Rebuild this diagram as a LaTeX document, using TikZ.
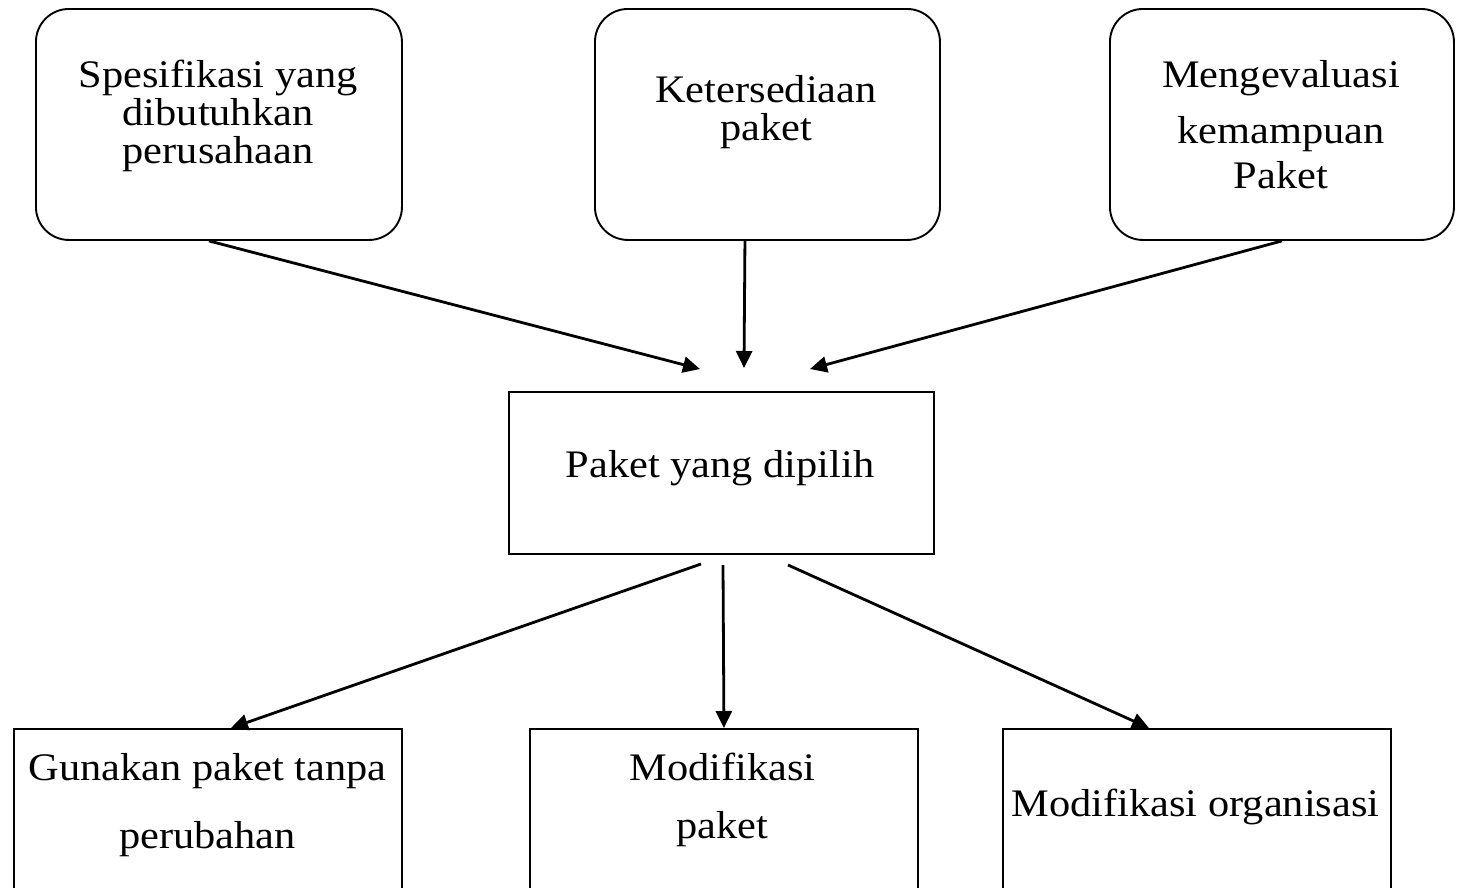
\documentclass[tikz,border=0pt]{standalone}
\usepackage{fontspec}
\setmainfont{Liberation Serif}[FakeStretch=1.087,Ligatures=NoCommon]
\usetikzlibrary{arrows.meta}
\begin{document}
\begin{tikzpicture}[x=1pt,y=1pt,
  rbox/.style={draw,line width=1.9pt,rounded corners=33pt,anchor=north west,inner sep=0pt},
  sbox/.style={draw,line width=1.9pt,anchor=north west,inner sep=0pt},
  txt/.style={anchor=base,align=center,inner sep=0pt,font=\fontsize{39}{38}\selectfont},
  arr/.style={line width=2.8pt,-{Triangle[length=17pt,width=16pt]}}]
\useasboundingbox (0,0) rectangle (1459,-887);
\clip (0,0) rectangle (1459,-887);
% top boxes
\node[rbox,minimum width=366pt,minimum height=231pt] (b1) at (35,-8) {};
\node[rbox,minimum width=345pt,minimum height=231pt] (b2) at (594,-8) {};
\node[rbox,minimum width=344pt,minimum height=231pt] (b3) at (1109,-8) {};
% middle box
\node[sbox,minimum width=425pt,minimum height=162pt] (m) at (508,-391) {};
% bottom boxes
\node[sbox,minimum width=388pt,minimum height=220pt] (c1) at (13,-728) {};
\node[sbox,minimum width=388pt,minimum height=220pt] (c2) at (529,-728) {};
\node[sbox,minimum width=388pt,minimum height=220pt] (c3) at (1002,-728) {};
% texts (anchor base = baseline of last line)
\node[txt] (t1) at (218,-163) {Spesifikasi yang\\dibutuhkan\\perusahaan};
\node[txt] (t2) at (766,-140) {Ketersediaan\\paket};
\node[txt] (t3) at (1281,-188) {Mengevaluasi\\[17.5pt]kemampuan\\[7pt]Paket};
\node[txt] (tm) at (720,-477) {Paket yang dipilih};
\node[txt] (u1) at (207.5,-848) {Gunakan paket tanpa\\[30pt]perubahan};
\node[txt] (u2) at (722.5,-838) {Modifikasi\\[20pt]paket};
\node[txt] (u3) at (1195.5,-816) {Modifikasi organisasi};
% arrow end points
\coordinate (p1) at (700,-369);
\coordinate (p2) at (744,-368);
\coordinate (p3) at (810,-369);
\coordinate (q1) at (701,-564);
\coordinate (q2) at (723,-565);
\coordinate (q3) at (788,-565);
\draw[arr] ([xshift=-10pt]b1.south) -- (p1);
\draw[arr] ([xshift=-22.5pt]b2.south) -- (p2);
\draw[arr] (b3.south) -- (p3);
\draw[arr] (q1) -- ([xshift=23pt]c1.north);
\draw[arr] (q2) -- (c2.north);
\draw[arr] (q3) -- ([xshift=-48pt]c3.north);
\end{tikzpicture}
\end{document}
